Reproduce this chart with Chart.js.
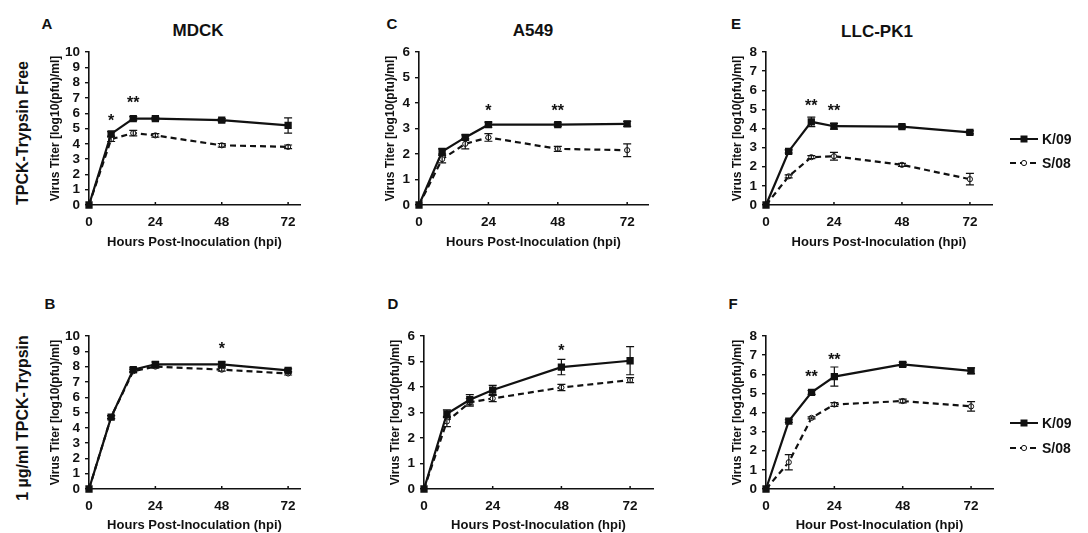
<!DOCTYPE html>
<html>
<head>
<meta charset="utf-8">
<script src="https://cdn.jsdelivr.net/npm/chart.js@4.4.1/dist/chart.umd.min.js"></script>
<style>
  body { margin: 0; background: #fff; }
  #fig { position: relative; width: 1088px; height: 533px; font-family: 'Liberation Sans', Arial, sans-serif; font-weight: bold; color: #111; }
  canvas { position: absolute; }
  .t { position: absolute; transform: translate(-50%, -50%); white-space: nowrap; }
  .letter { font-size: 15px; }
  .title { font-size: 17px; }
  .row { position: absolute; transform: translate(-50%, -50%) rotate(-90deg); white-space: nowrap; font-size: 16px; }
</style>
</head>
<body>
<div id="fig">
  <div class="row" style="left:23px; top:133px;">TPCK-Trypsin Free</div>
  <div class="row" style="left:23px; top:418px;">1 µg/ml TPCK-Trypsin</div>

  <div class="t letter" style="left:47px; top:23px;">A</div>
  <div class="t title" style="left:198px; top:31px;">MDCK</div>
  <div class="t letter" style="left:392px; top:23px;">C</div>
  <div class="t title" style="left:533px; top:31px;">A549</div>
  <div class="t letter" style="left:736px; top:23px;">E</div>
  <div class="t title" style="left:877px; top:32px;">LLC-PK1</div>
  <div class="t letter" style="left:50px; top:303px;">B</div>
  <div class="t letter" style="left:393px; top:303px;">D</div>
  <div class="t letter" style="left:733px; top:303px;">F</div>

  <canvas id="pA"></canvas>
  <canvas id="pC"></canvas>
  <canvas id="pE"></canvas>
  <canvas id="pB"></canvas>
  <canvas id="pD"></canvas>
  <canvas id="pF"></canvas>
</div>
<script>
// time points and axis ticks
const hours = [0, 8, 16, 24, 48, 72];
const xTickValues = [0, 24, 48, 72];
const seriesNames = ['K/09', 'S/08'];

// A - MDCK, trypsin free
const mdckFreeK09 = [0, 4.65, 5.65, 5.65, 5.55, 5.2];
const mdckFreeK09Err = [0, 0.15, 0.12, 0.08, 0.1, 0.5];
const mdckFreeS08 = [0, 4.3, 4.7, 4.55, 3.9, 3.8];
const mdckFreeS08Err = [0, 0.15, 0.18, 0.12, 0.12, 0.12];
const mdckFreeStars = [[8, 5.65, '*'], [16, 6.8, '**']];

// C - A549, trypsin free
const a549FreeK09 = [0, 2.1, 2.65, 3.15, 3.15, 3.18];
const a549FreeK09Err = [0, 0.1, 0.1, 0.1, 0.07, 0.1];
const a549FreeS08 = [0, 1.8, 2.4, 2.65, 2.2, 2.15];
const a549FreeS08Err = [0, 0.15, 0.2, 0.15, 0.1, 0.25];
const a549FreeStars = [[24, 3.8, '*'], [48, 3.8, '**']];

// E - LLC-PK1, trypsin free
const llcFreeK09 = [0, 2.8, 4.35, 4.12, 4.1, 3.8];
const llcFreeK09Err = [0, 0.08, 0.25, 0.15, 0.08, 0.08];
const llcFreeS08 = [0, 1.5, 2.5, 2.55, 2.1, 1.35];
const llcFreeS08Err = [0, 0.08, 0.08, 0.2, 0.08, 0.3];
const llcFreeStars = [[16, 5.3, '**'], [24, 5.05, '**']];

// B - MDCK, 1 ug/ml trypsin
const mdckTrypK09 = [0, 4.7, 7.8, 8.15, 8.15, 7.75];
const mdckTrypK09Err = [0, 0.1, 0.12, 0.15, 0.15, 0.1];
const mdckTrypS08 = [0, 4.7, 7.7, 8.0, 7.8, 7.55];
const mdckTrypS08Err = [0, 0.1, 0.1, 0.1, 0.1, 0.1];
const mdckTrypStars = [[48, 9.3, '*']];

// D - A549, 1 ug/ml trypsin
const a549TrypK09 = [0, 2.95, 3.5, 3.88, 4.78, 5.03];
const a549TrypK09Err = [0, 0.15, 0.2, 0.18, 0.3, 0.55];
const a549TrypS08 = [0, 2.65, 3.4, 3.55, 3.98, 4.27];
const a549TrypS08Err = [0, 0.2, 0.15, 0.12, 0.12, 0.1];
const a549TrypStars = [[48, 5.5, '*']];

// F - LLC-PK1, 1 ug/ml trypsin
const llcTrypK09 = [0, 3.55, 5.05, 5.88, 6.52, 6.18];
const llcTrypK09Err = [0, 0.07, 0.1, 0.5, 0.1, 0.15];
const llcTrypS08 = [0, 1.4, 3.72, 4.42, 4.6, 4.32];
const llcTrypS08Err = [0, 0.4, 0.05, 0.1, 0.1, 0.25];
const llcTrypStars = [[16, 6.0, '**'], [24, 6.85, '**']];

const FONT = "'Liberation Sans', Arial, sans-serif";
const INK = '#111';

// draws error bars, significance stars, inward x ticks and the legend
const extras = {
  id: 'extras',
  afterDatasetsDraw(chart, args, opts) {
    const ctx = chart.ctx, xs = chart.scales.x, ys = chart.scales.y;
    ctx.save();
    ctx.strokeStyle = INK;
    ctx.fillStyle = INK;
    ctx.lineWidth = 1.5;
    xTickValues.forEach(v => {
      if (v === 0) return;
      const px = xs.getPixelForValue(v);
      ctx.beginPath(); ctx.moveTo(px, ys.bottom); ctx.lineTo(px, ys.bottom - 3); ctx.stroke();
    });
    ctx.lineWidth = 1.2;
    chart.data.datasets.forEach(ds => {
      ds.errors.forEach((e, i) => {
        if (!e) return;
        const pt = ds.data[i];
        const px = xs.getPixelForValue(pt.x);
        const y1 = ys.getPixelForValue(pt.y - e), y2 = ys.getPixelForValue(pt.y + e);
        ctx.beginPath();
        ctx.moveTo(px, y1); ctx.lineTo(px, y2);
        ctx.moveTo(px - 4, y1); ctx.lineTo(px + 4, y1);
        ctx.moveTo(px - 4, y2); ctx.lineTo(px + 4, y2);
        ctx.stroke();
      });
    });
    ctx.font = 'bold 16px ' + FONT;
    ctx.textAlign = 'center';
    ctx.textBaseline = 'middle';
    (opts.stars || []).forEach(([h, v, s]) => {
      ctx.fillText(s, xs.getPixelForValue(h), ys.getPixelForValue(v) + 3);
    });
    if (opts.legend) {
      const L = opts.legend;
      ctx.font = 'bold 14px ' + FONT;
      ctx.textAlign = 'left';
      chart.data.datasets.forEach((ds, i) => {
        const ly = L.y[i];
        ctx.lineWidth = 2;
        ctx.setLineDash(ds.borderDash || []);
        ctx.beginPath(); ctx.moveTo(L.x0, ly); ctx.lineTo(L.x1, ly); ctx.stroke();
        ctx.setLineDash([]);
        const mx = (L.x0 + L.x1) / 2;
        if (ds.pointStyle === 'rect') {
          ctx.fillRect(mx - 3.5, ly - 3.5, 7, 7);
        } else {
          ctx.beginPath(); ctx.arc(mx, ly, 2.6, 0, Math.PI * 2);
          ctx.fillStyle = '#fff'; ctx.fill();
          ctx.lineWidth = 1; ctx.stroke();
          ctx.fillStyle = INK;
        }
        ctx.fillText(ds.label, L.x1 + 4, ly + 1);
      });
    }
    ctx.restore();
  }
};

function series(vals) {
  return vals.map((v, i) => ({ x: hours[i], y: v }));
}

function makePanel(id, box, k09, k09Err, s08, s08Err, stars, yMax, xTitle, legend) {
  const cv = document.getElementById(id);
  cv.style.left = box.left + 'px';
  cv.style.top = box.top + 'px';
  cv.style.width = box.w + 'px';
  cv.style.height = box.h + 'px';
  cv.width = box.w; cv.height = box.h;
  new Chart(cv, {
    type: 'line',
    data: {
      datasets: [
        { label: seriesNames[0], data: series(k09), errors: k09Err, borderColor: INK, backgroundColor: INK,
          borderWidth: 2.2, pointStyle: 'rect', pointRadius: 3.6, pointBackgroundColor: INK, pointBorderColor: INK,
          tension: 0, clip: false },
        { label: seriesNames[1], data: series(s08), errors: s08Err, borderColor: INK, backgroundColor: '#fff',
          borderWidth: 2.2, borderDash: [6, 4], pointStyle: 'circle', pointRadius: 2.6, pointBorderWidth: 1,
          pointBackgroundColor: '#fff', pointBorderColor: INK, tension: 0, clip: false }
      ]
    },
    options: {
      responsive: false,
      animation: false,
      events: [],
      layout: { padding: box.pad },
      plugins: { legend: { display: false }, tooltip: { enabled: false }, extras: { stars, legend } },
      scales: {
        x: {
          type: 'linear', min: 0, max: box.xMax,
          afterBuildTicks: s => { s.ticks = xTickValues.map(v => ({ value: v })); },
          afterFit: s => { s.height = box.xH; },
          grid: { display: false, drawTicks: false },
          border: { display: true, color: INK, width: 1.6 },
          ticks: { color: INK, padding: 9, maxRotation: 0, autoSkip: false, font: { family: FONT, size: 13.5, weight: 'bold' } },
          title: { display: true, text: xTitle, color: INK, padding: 0, font: { family: FONT, size: 13, weight: 'bold' } }
        },
        y: {
          min: 0, max: yMax,
          afterFit: s => { s.width = box.yW; },
          grid: { display: true, drawOnChartArea: false, drawTicks: true, tickLength: 4, color: INK, lineWidth: 1.4 },
          border: { display: true, color: INK, width: 1.6 },
          ticks: { stepSize: 1, autoSkip: false, color: INK, padding: 5, font: { family: FONT, size: 13.5, weight: 'bold' } },
          title: { display: true, text: 'Virus Titer [log10(pfu)/ml]', color: INK, padding: 0, font: { family: FONT, size: 12, weight: 'bold' } }
        }
      }
    },
    plugins: [extras]
  });
}

const xTitle = 'Hours Post-Inoculation (hpi)';

makePanel('pA', { left: 0, top: 0, w: 330, h: 265, pad: { left: 48, right: 30, top: 52, bottom: 15 }, yW: 41, xH: 45, xMax: 76.3 },
  mdckFreeK09, mdckFreeK09Err, mdckFreeS08, mdckFreeS08Err, mdckFreeStars, 10, xTitle);
makePanel('pC', { left: 340, top: 0, w: 330, h: 265, pad: { left: 43, right: 22, top: 52, bottom: 15 }, yW: 36, xH: 45, xMax: 79.2 },
  a549FreeK09, a549FreeK09Err, a549FreeS08, a549FreeS08Err, a549FreeStars, 6, xTitle);
makePanel('pE', { left: 680, top: 0, w: 408, h: 265, pad: { left: 50, right: 96, top: 52, bottom: 15 }, yW: 36, xH: 45, xMax: 79.8 },
  llcFreeK09, llcFreeK09Err, llcFreeS08, llcFreeS08Err, llcFreeStars, 8, xTitle,
  { x0: 330, x1: 358, y: [139, 163] });
makePanel('pB', { left: 0, top: 270, w: 330, h: 263, pad: { left: 48, right: 30, top: 66, bottom: 0 }, yW: 41, xH: 44, xMax: 76.3 },
  mdckTrypK09, mdckTrypK09Err, mdckTrypS08, mdckTrypS08Err, mdckTrypStars, 10, xTitle);
makePanel('pD', { left: 340, top: 270, w: 330, h: 263, pad: { left: 48, right: 17, top: 66, bottom: 0 }, yW: 36, xH: 44, xMax: 80 },
  a549TrypK09, a549TrypK09Err, a549TrypS08, a549TrypS08Err, a549TrypStars, 6, xTitle);
makePanel('pF', { left: 680, top: 270, w: 408, h: 263, pad: { left: 50, right: 95, top: 66, bottom: 0 }, yW: 36, xH: 44, xMax: 79.7 },
  llcTrypK09, llcTrypK09Err, llcTrypS08, llcTrypS08Err, llcTrypStars, 8, 'Hour Post-Inoculation (hpi)',
  { x0: 330, x1: 358, y: [153, 178] });
</script>
</body>
</html>
